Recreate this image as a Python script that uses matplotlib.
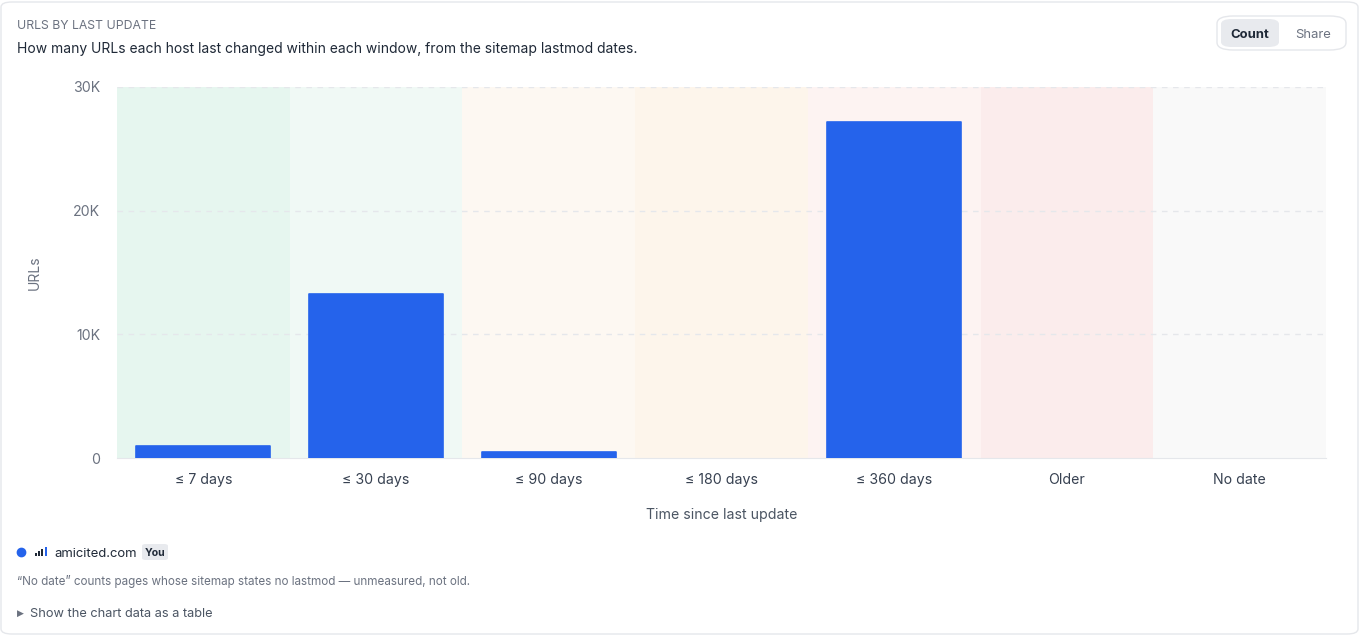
import matplotlib
matplotlib.use("Agg")
import matplotlib.pyplot as plt
from matplotlib.patches import FancyBboxPatch, Rectangle
from matplotlib.lines import Line2D

plt.rcParams["font.family"] = ["Inter", "DejaVu Sans"]

# ---------------------------------------------------------------------------
# Data
# ---------------------------------------------------------------------------
categories = ["≤ 7 days", "≤ 30 days", "≤ 90 days", "≤ 180 days",
              "≤ 360 days", "Older", "No date"]
url_counts = [1000, 13250, 500, 0, 27150, 0, 0]
band_colors = ["#E6F6EF", "#F0F9F5", "#FDF8F2", "#FDF5EB",
               "#FDF3F2", "#FBECEC", "#F9F9F9"]
y_ticks = [0, 10000, 20000, 30000]
y_ticklabels = ["0", "10K", "20K", "30K"]

BAR_COLOR = "#2563EB"
W, H = 1360, 635


def fx(px):
    return px / W


def fy(py):
    return 1 - py / H


fig = plt.figure(figsize=(W / 100, H / 100), dpi=100)
fig.patch.set_facecolor("white")

# card border
fig.patches.append(FancyBboxPatch((fx(1), fy(634)), fx(1357), 632 / H,
                                  boxstyle="round,pad=0,rounding_size=0.008",
                                  transform=fig.transFigure, facecolor="none",
                                  edgecolor="#E5E7EB", linewidth=1))

# ---------------------------------------------------------------------------
# Axes
# ---------------------------------------------------------------------------
ax = fig.add_axes([fx(117), fy(458), fx(1326 - 117), (458 - 87) / H])
n = len(categories)
x = list(range(n))
for i, c in enumerate(band_colors):
    ax.axvspan(i - 0.5, i + 0.5, color=c, linewidth=0, zorder=0)

for yt in y_ticks[1:]:
    ax.axhline(yt, color="#E5E7EB", linewidth=1, linestyle=(0, (4, 4)), zorder=1)

edge_w = [1.2 if v > 0 else 0 for v in url_counts]
ax.bar(x, url_counts, width=0.775, color=BAR_COLOR, edgecolor=BAR_COLOR,
       linewidth=edge_w, joinstyle="round", zorder=3)

ax.set_xlim(-0.5, n - 0.5)
ax.set_ylim(0, 30000)
ax.set_yticks(y_ticks)
ax.set_yticklabels(y_ticklabels)
ax.set_xticks(x)
ax.set_xticklabels(categories)
ax.tick_params(axis="both", length=0, labelsize=10.2)
ax.tick_params(axis="y", pad=12, labelcolor="#6B7280")
ax.tick_params(axis="x", pad=11, labelcolor="#374151")
for side in ["top", "right", "left"]:
    ax.spines[side].set_visible(False)
ax.spines["bottom"].set_color("#E5E7EB")
ax.set_facecolor("white")

ax.set_xlabel("Time since last update", fontsize=10.2, color="#4B5563")
ax.xaxis.set_label_coords(0.5, -(515 - 458) / 371, transform=ax.transAxes)
ax.xaxis.label.set_va("center")
ax.set_ylabel("URLs", fontsize=10, color="#6B7280")
ax.yaxis.set_label_coords((35 - 117) / 1209, 0.5, transform=ax.transAxes)
ax.yaxis.label.set_va("center")

# ---------------------------------------------------------------------------
# Header text
# ---------------------------------------------------------------------------
fig.text(fx(17), fy(26), "URLS BY LAST UPDATE", fontsize=8.8, color="#6B7280",
         va="center", ha="left")
fig.text(fx(17), fy(49), "How many URLs each host last changed within each "
         "window, from the sitemap lastmod dates.", fontsize=10,
         color="#1F2937", va="center", ha="left")

# Count / Share toggle
fig.patches.append(FancyBboxPatch((fx(1217), fy(50)), fx(129), 34 / H,
                                  boxstyle="round,pad=0,rounding_size=0.012",
                                  transform=fig.transFigure, facecolor="white",
                                  edgecolor="#E5E7EB", linewidth=1))
fig.patches.append(FancyBboxPatch((fx(1221), fy(47)), fx(58), 28 / H,
                                  boxstyle="round,pad=0,rounding_size=0.008",
                                  transform=fig.transFigure, facecolor="#E8EAEE",
                                  edgecolor="none"))
fig.text(fx(1250), fy(35), "Count", fontsize=9.4, weight="bold",
         color="#1F2937", ha="center", va="center")
fig.text(fx(1313), fy(35), "Share", fontsize=9.4, color="#6B7280",
         ha="center", va="center")

# ---------------------------------------------------------------------------
# Legend + footnotes
# ---------------------------------------------------------------------------
fig.add_artist(Line2D([fx(21)], [fy(552)], marker="o", markersize=6,
                      color=BAR_COLOR, linestyle="none",
                      transform=fig.transFigure))
for k, h in enumerate([3, 5, 7, 9]):
    fig.patches.append(Rectangle((fx(35 + k * 3.2), fy(556)), 2 / W, h / H,
                                 transform=fig.transFigure,
                                 facecolor="#1F2937" if k < 3 else BAR_COLOR,
                                 edgecolor="none"))
fig.text(fx(54), fy(554), "amicited.com", fontsize=9.4, color="#1F2937",
         ha="left", va="center")
fig.patches.append(FancyBboxPatch((fx(142), fy(560)), fx(26), 16 / H,
                                  boxstyle="round,pad=0,rounding_size=0.003",
                                  transform=fig.transFigure, facecolor="#E8EAEE",
                                  edgecolor="none"))
fig.text(fx(155), fy(553.5), "You", fontsize=7.6, weight="bold",
         color="#1F2937", ha="center", va="center")

fig.text(fx(17), fy(582), "\u201cNo date\u201d counts pages whose sitemap states "
         "no lastmod \u2014 unmeasured, not old.", fontsize=8.4,
         color="#6B7280", ha="left", va="center")
fig.text(fx(17), fy(613), "\u25b6", fontsize=6.5, color="#6B7280",
         ha="left", va="center", family=["DejaVu Sans"])
fig.text(fx(30), fy(614), "Show the chart data as a table", fontsize=9.2,
         color="#4B5563", ha="left", va="center")

fig.savefig("out.png", dpi=100, facecolor="white")
